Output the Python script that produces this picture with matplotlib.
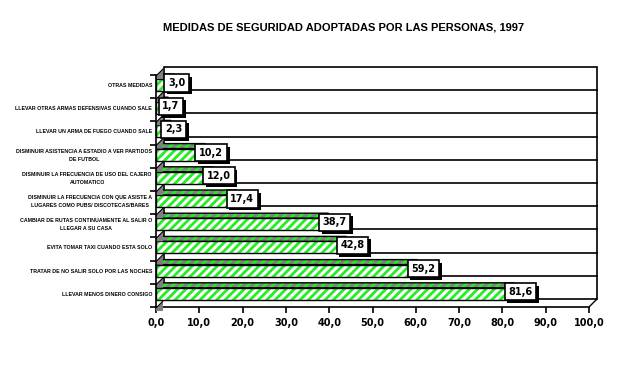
import matplotlib
matplotlib.use("Agg")
import matplotlib.pyplot as plt
from matplotlib.patches import Polygon, Rectangle
import matplotlib.patheffects as pe

plt.rcParams['hatch.linewidth'] = 2.0

title = "MEDIDAS DE SEGURIDAD ADOPTADAS POR LAS PERSONAS, 1997"
categories = [
    "OTRAS MEDIDAS",
    "LLEVAR OTRAS ARMAS DEFENSIVAS CUANDO SALE",
    "LLEVAR UN ARMA DE FUEGO CUANDO SALE",
    "DISMINUIR ASISTENCIA A ESTADIO A VER PARTIDOS\nDE FUTBOL",
    "DISMINUIR LA FRECUENCIA DE USO DEL CAJERO\nAUTOMATICO",
    "DISMINUIR LA FRECUENCIA CON QUE ASISTE A\nLUGARES COMO PUBS/ DISCOTECAS/BARES",
    "CAMBIAR DE RUTAS CONTINUAMENTE AL SALIR O\nLLEGAR A SU CASA",
    "EVITA TOMAR TAXI CUANDO ESTA SOLO",
    "TRATAR DE NO SALIR SOLO POR LAS NOCHES",
    "LLEVAR MENOS DINERO CONSIGO",
]
values = [3.0, 1.7, 2.3, 10.2, 12.0, 17.4, 38.7, 42.8, 59.2, 81.6]
xticks = [0, 10, 20, 30, 40, 50, 60, 70, 80, 90, 100]

W, H = 635, 366
fig = plt.figure(figsize=(W / 100, H / 100), dpi=100)
x0_px, x100_px = 156, 589
floor_px, top_px = 307, 75
ax = fig.add_axes([x0_px / W, 1 - floor_px / H, (x100_px - x0_px) / W, (floor_px - top_px) / H])
n = len(categories)
ax.set_xlim(0, 100)
ax.set_ylim(0, n)

sx = (x100_px - x0_px) / 100.0   # px per x unit
sy = (floor_px - top_px) / n     # px per row
px = lambda p: p / sx
py = lambda p: p / sy

dX, dY = px(8), py(8)

# back wall
ax.add_patch(Rectangle((dX, dY), 100, n, facecolor='white', edgecolor='black', lw=1.2,
                       clip_on=False, zorder=1))
for k in range(1, n):
    ax.plot([dX, 100 + dX], [k + dY, k + dY], color='black', lw=1.2, clip_on=False, zorder=1.1)
# floor right edge
ax.plot([100, 100 + dX], [0, dY], color='black', lw=1, clip_on=False, zorder=1.1)

ddx, ddy = px(5), py(5)
for i, (cat, v) in enumerate(zip(categories, values)):
    r = n - 1 - i
    rt = r + 1
    f_top = rt - py(4)
    f_bot = rt - py(16)
    # top face
    top = Polygon([(0, f_top), (v, f_top), (v + ddx, f_top + ddy), (ddx, f_top + ddy)],
                  closed=True, facecolor='#808080', edgecolor='#22ee22', lw=0, hatch='////',
                  clip_on=False, zorder=2)
    ax.add_patch(top)
    ax.add_patch(Polygon([(0, f_top), (v, f_top), (v + ddx, f_top + ddy), (ddx, f_top + ddy)],
                         closed=True, fill=False, edgecolor='black', lw=1, clip_on=False, zorder=2.1))
    # front face
    ax.add_patch(Rectangle((0, f_bot), v, f_top - f_bot, facecolor='white', edgecolor='#22ee22',
                           lw=0, hatch='////', clip_on=False, zorder=2.2))
    ax.add_patch(Rectangle((0, f_bot), v, f_top - f_bot, fill=False, edgecolor='black',
                           lw=1, clip_on=False, zorder=2.3))
    # category label
    ax.text(-px(4), r + 0.55, cat, ha='right', va='center', multialignment='center',
            fontsize=3.8, fontweight='bold', family='Liberation Sans',
            linespacing=1.75, clip_on=False)
    # value label
    t = ax.text(v - px(1), rt - py(8), f"{v:.1f}".replace('.', ','), ha='left', va='center',
                fontsize=7, fontweight='bold', family='DejaVu Sans', zorder=5,
                bbox=dict(boxstyle='square,pad=0.38', facecolor='white', edgecolor='black', lw=1.2))
    t.get_bbox_patch().set_path_effects([
        pe.SimplePatchShadow(offset=(2, -2), shadow_rgbFace='black', alpha=1), pe.Normal()])

# gray wall pieces at each category boundary
for k in range(n + 1):
    ax.add_patch(Polygon([(0, k - py(4)), (0, k - py(1)), (dX - px(1), k + dY - py(2)),
                          (dX - px(1), k - py(4))], closed=True, facecolor='#808080',
                         edgecolor='none', clip_on=False, zorder=3))
    ax.plot([0, dX - px(1)], [k - py(1), k + dY - py(2)], color='black', lw=0.8,
            clip_on=False, zorder=3.1)

for s in ['top', 'right']:
    ax.spines[s].set_visible(False)
ax.spines['left'].set_linewidth(1.2)
ax.spines['bottom'].set_linewidth(1.2)
ax.spines['left'].set_zorder(4)
ax.patch.set_visible(False)
ax.set_xticks(xticks)
ax.set_xticklabels([f"{v:.1f}".replace('.', ',') for v in xticks],
                   fontsize=7, fontweight='bold', family='DejaVu Sans')
ax.set_yticks(range(n + 1))
ax.set_yticklabels([])
ax.tick_params(axis='both', direction='out', length=4, width=1.2, pad=4)

fig.text(343.5 / W, 1 - 27 / H, title, ha='center', va='center', fontsize=8,
         fontweight='bold', family='Liberation Sans')

fig.savefig('out.png', dpi=100)
